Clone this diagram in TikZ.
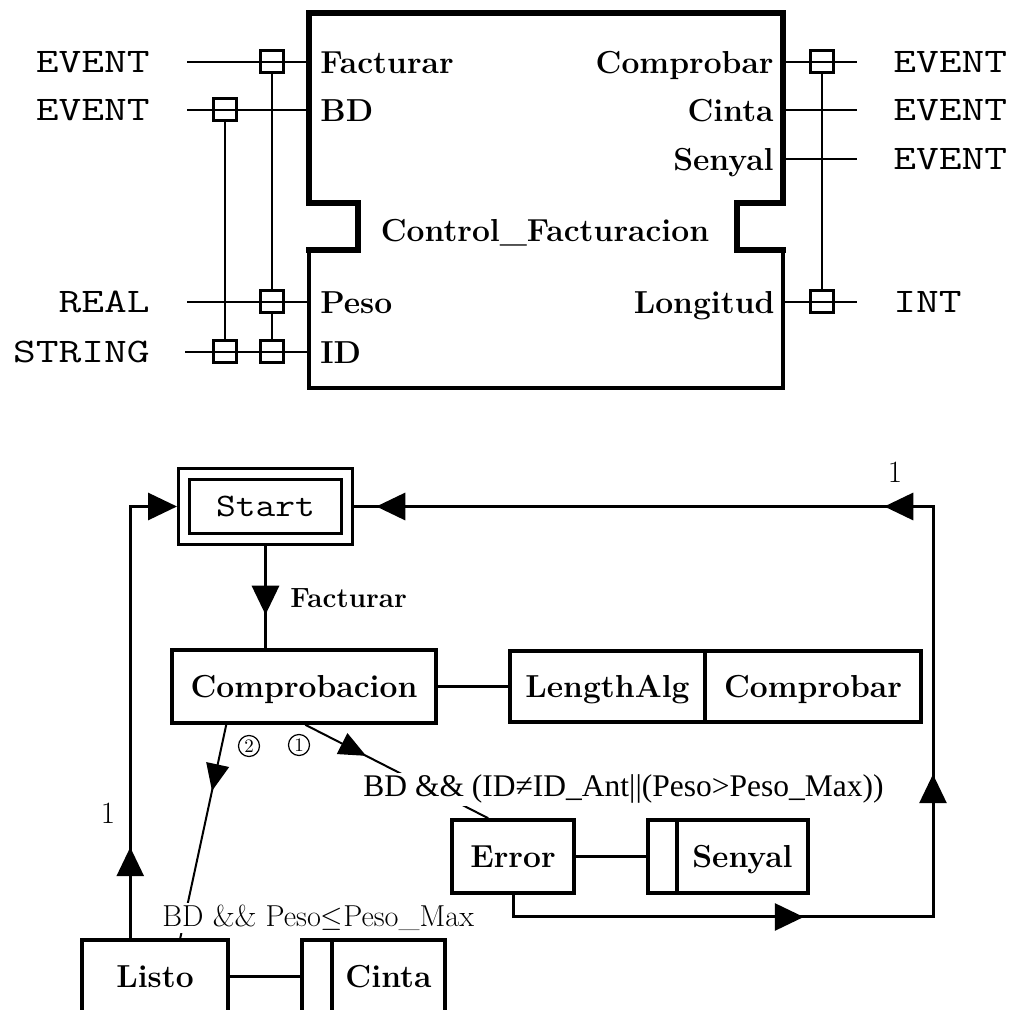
\documentclass[tikz,border=0pt]{standalone}
\usepackage{fontspec}
\usepackage{graphicx}
\newfontfamily\timesf{Liberation Serif}
\usetikzlibrary{arrows.meta,decorations.markings}
\newcommand\bfsz{\fontsize{15.9}{18}\selectfont\bfseries}
\newcommand\monotxt[1]{\scalebox{1.285}[1]{\ttfamily\fontsize{17.2}{20}\selectfont #1}}
\tikzset{
  wire/.style={line width=1.35pt},
  port/.style={font=\bfsz, inner sep=0pt},
  tlabel/.style={inner sep=0pt},
  abox/.style={draw, line width=1.5pt, minimum width=11.5pt, minimum height=11pt, inner sep=0pt},
  sbox/.style={draw, line width=1.75pt, inner sep=0pt, font=\bfsz, text height=14.1pt, text depth=3.2pt},
  conn/.style={line width=1.5pt},
  tconn/.style={line width=1pt},
  prio/.style={circle, draw, line width=0.6pt, minimum size=10.5pt, inner sep=0pt, font=\fontsize{9.5}{11}\selectfont},
  bigtri/.tip={Triangle[length=14.5pt,width=13.5pt]},
  smtri/.tip={Triangle[length=13.5pt,width=11.5pt]},
}
\begin{document}
\begin{tikzpicture}[x=0.5pt,y=-0.5pt]
\useasboundingbox (0,0) rectangle (1019,1010);
\clip (0,0) rectangle (1019,1010);
\fill[white] (0,0) rectangle (1019,1010);

% ---------- function block ----------
\draw[line width=3pt, line cap=rect] (309,250) -- (358,250) -- (358,203) -- (309,203) -- (309,13) -- (783,13) -- (783,203) -- (737,203) -- (737,250) -- (783,250);
\draw[line width=2.2pt, line cap=rect] (309,250) -- (309,388) -- (783,388) -- (783,250);

\node[port, anchor=base west] (pFac) at (320,73.5) {Facturar};
\node[port, anchor=base west] (pBD) at (320,121.5) {BD};
\node[port, anchor=base west] (pPeso) at (320,313.5) {Peso};
\node[port, anchor=base west] (pID) at (320,363.5) {ID};
\node[port, anchor=base east] (pComp) at (774,73.5) {Comprobar};
\node[port, anchor=base east] (pCinta) at (774,121.5) {Cinta};
\node[port, anchor=base east] (pSen) at (774,170.5) {Senyal};
\node[port, anchor=base east] (pLon) at (775,313.5) {Longitud};
\node[port, anchor=base] (fbname) at (545,242) {Control\_Facturacion};

% type labels
\node[tlabel, anchor=base east] (tE1) at (150,73) {\monotxt{EVENT}};
\node[tlabel, anchor=base east] (tE2) at (150,121) {\monotxt{EVENT}};
\node[tlabel, anchor=base east] (tR) at (150,313) {\monotxt{REAL}};
\node[tlabel, anchor=base east] (tS) at (150,363) {\monotxt{STRING}};
\node[tlabel, anchor=base west] (tO1) at (893,73) {\monotxt{EVENT}};
\node[tlabel, anchor=base west] (tO2) at (893,121) {\monotxt{EVENT}};
\node[tlabel, anchor=base west] (tO3) at (893,170) {\monotxt{EVENT}};
\node[tlabel, anchor=base west] (tO4) at (893,313) {\monotxt{INT}};

% wire end points
\coordinate (sFac) at (187,62);   \coordinate (eFac) at (309,62);
\coordinate (sBD) at (187,110);   \coordinate (eBD) at (309,110);
\coordinate (sPeso) at (187,302); \coordinate (ePeso) at (309,302);
\coordinate (sID) at (185,352);   \coordinate (eID) at (309,352);
\coordinate (sComp) at (783,62);  \coordinate (eComp) at (857,62);
\coordinate (sCinta) at (783,110);\coordinate (eCinta) at (857,110);
\coordinate (sSen) at (783,159);  \coordinate (eSen) at (857,159);
\coordinate (sLon) at (783,302);  \coordinate (eLon) at (857,302);

\draw[wire] (sFac) -- (eFac);
\draw[wire] (sBD) -- (eBD);
\draw[wire] (sPeso) -- (ePeso);
\draw[wire] (sID) -- (eID);
\draw[wire] (sComp) -- (eComp);
\draw[wire] (sCinta) -- (eCinta);
\draw[wire] (sSen) -- (eSen);
\draw[wire] (sLon) -- (eLon);

\node[abox] (bFac) at (272,62) {};
\node[abox] (bBD) at (225,110) {};
\node[abox] (bPeso) at (272,302) {};
\node[abox] (bID1) at (272,352) {};
\node[abox] (bID2) at (225,352) {};
\node[abox] (bComp) at (822,62) {};
\node[abox] (bLon) at (822,302) {};

\draw[wire] (bFac.south) -- (bPeso.north);
\draw[wire] (bPeso.south) -- (bID1.north);
\draw[wire] (bBD.south) -- (bID2.north);
\draw[wire] (bComp.south) -- (bLon.north);

% ---------- ECC ----------
\node[draw, double, line width=1.5pt, double distance=4pt, minimum width=81.5pt, minimum height=32.25pt, inner sep=0pt, outer sep=3.5pt] (start) at (265.5,506.5) {\scalebox{1.17}[1]{\ttfamily\fontsize{16.4}{19}\selectfont Start}};

\node[sbox, minimum width=132pt, minimum height=36.5pt] (comp) at (304,686.5) {Comprobacion};
\node[sbox, minimum width=97.5pt, minimum height=35.5pt] (lenA) at (607.5,686.5) {LengthAlg};
\node[sbox, minimum width=108pt, minimum height=35.5pt] (lenB) at (813,686.5) {Comprobar};
\node[sbox, minimum width=61pt, minimum height=36.5pt] (error) at (513,856.5) {Error};
\node[sbox, minimum width=14.5pt, minimum height=36.5pt] (senL) at (662.5,856.5) {};
\node[sbox, minimum width=65.5pt, minimum height=36.5pt] (senyal) at (742.5,856.5) {Senyal};
\node[sbox, minimum width=73pt, minimum height=37pt] (listo) at (155,977) {Listo};
\node[sbox, minimum width=15pt, minimum height=37pt] (cintaL) at (317,977) {};
\node[sbox, minimum width=56.5pt, minimum height=37pt] (cinta) at (388.5,977) {Cinta};

\draw[conn] (comp.east) -- (lenA.west);
\draw[conn] (error.east) -- (senL.west);
\draw[conn] (listo.east) -- (cintaL.west);

% start -> comprobacion
\draw[conn, postaction={decorate}, decoration={markings, mark=at position 34.5pt with {\arrow{bigtri}}}]
  (start.south) -- (start.south |- comp.north);

% listo -> start
\draw[conn, -{bigtri}, postaction={decorate}, decoration={markings, mark=at position 45.5pt with {\arrow{bigtri}}}]
  ([xshift=25pt]listo.north west) |- (start.west);

% error -> start
\coordinate (br) at (933,917);
\draw[conn, postaction={decorate}, decoration={markings,
    mark=at position 156.5pt with {\arrow{bigtri}},
    mark=at position 292.5pt with {\arrow{bigtri}},
    mark=at position 450.75pt with {\arrow{bigtri}},
    mark=at position 704.75pt with {\arrow{bigtri}}}]
  (error.south) |- (br) |- (start.east);

% transitions
\draw[tconn, postaction={decorate}, decoration={markings, mark=at position 0.31 with {\arrow{smtri}}}]
  ([xshift=28pt]comp.south west) -- ([xshift=50pt]listo.north west);
\draw[tconn, postaction={decorate}, decoration={markings, mark=at position 0.333 with {\arrow{smtri}}}]
  ([xshift=67.5pt]comp.south west) -- ([xshift=19pt]error.north west);

% labels
\node[font=\bfseries\fontsize{13.9}{16}\selectfont, anchor=base west, inner sep=0pt] (lFac) at (290,608) {Facturar};
\node[font=\timesf\fontsize{15.75}{18}\selectfont, fill=white, inner sep=1pt, anchor=base] (c1) at (623.5,797) {BD \&\& (ID≠ID\_Ant||(Peso>Peso\_Max))};
\node[font=\fontsize{15.15}{18}\selectfont, fill=white, inner sep=1pt, anchor=base west] (c2) at (160,927) {BD \&\& Peso$\leq$Peso\_Max};
\node[prio] (n2) at (249,746) {2};
\node[prio] (n1) at (299,745) {1};
\node[font=\fontsize{15.5}{18}\selectfont, inner sep=0pt] (one1) at (108,813) {1};
\node[font=\fontsize{15.5}{18}\selectfont, inner sep=0pt] (one2) at (895,472) {1};
\end{tikzpicture}
\end{document}
